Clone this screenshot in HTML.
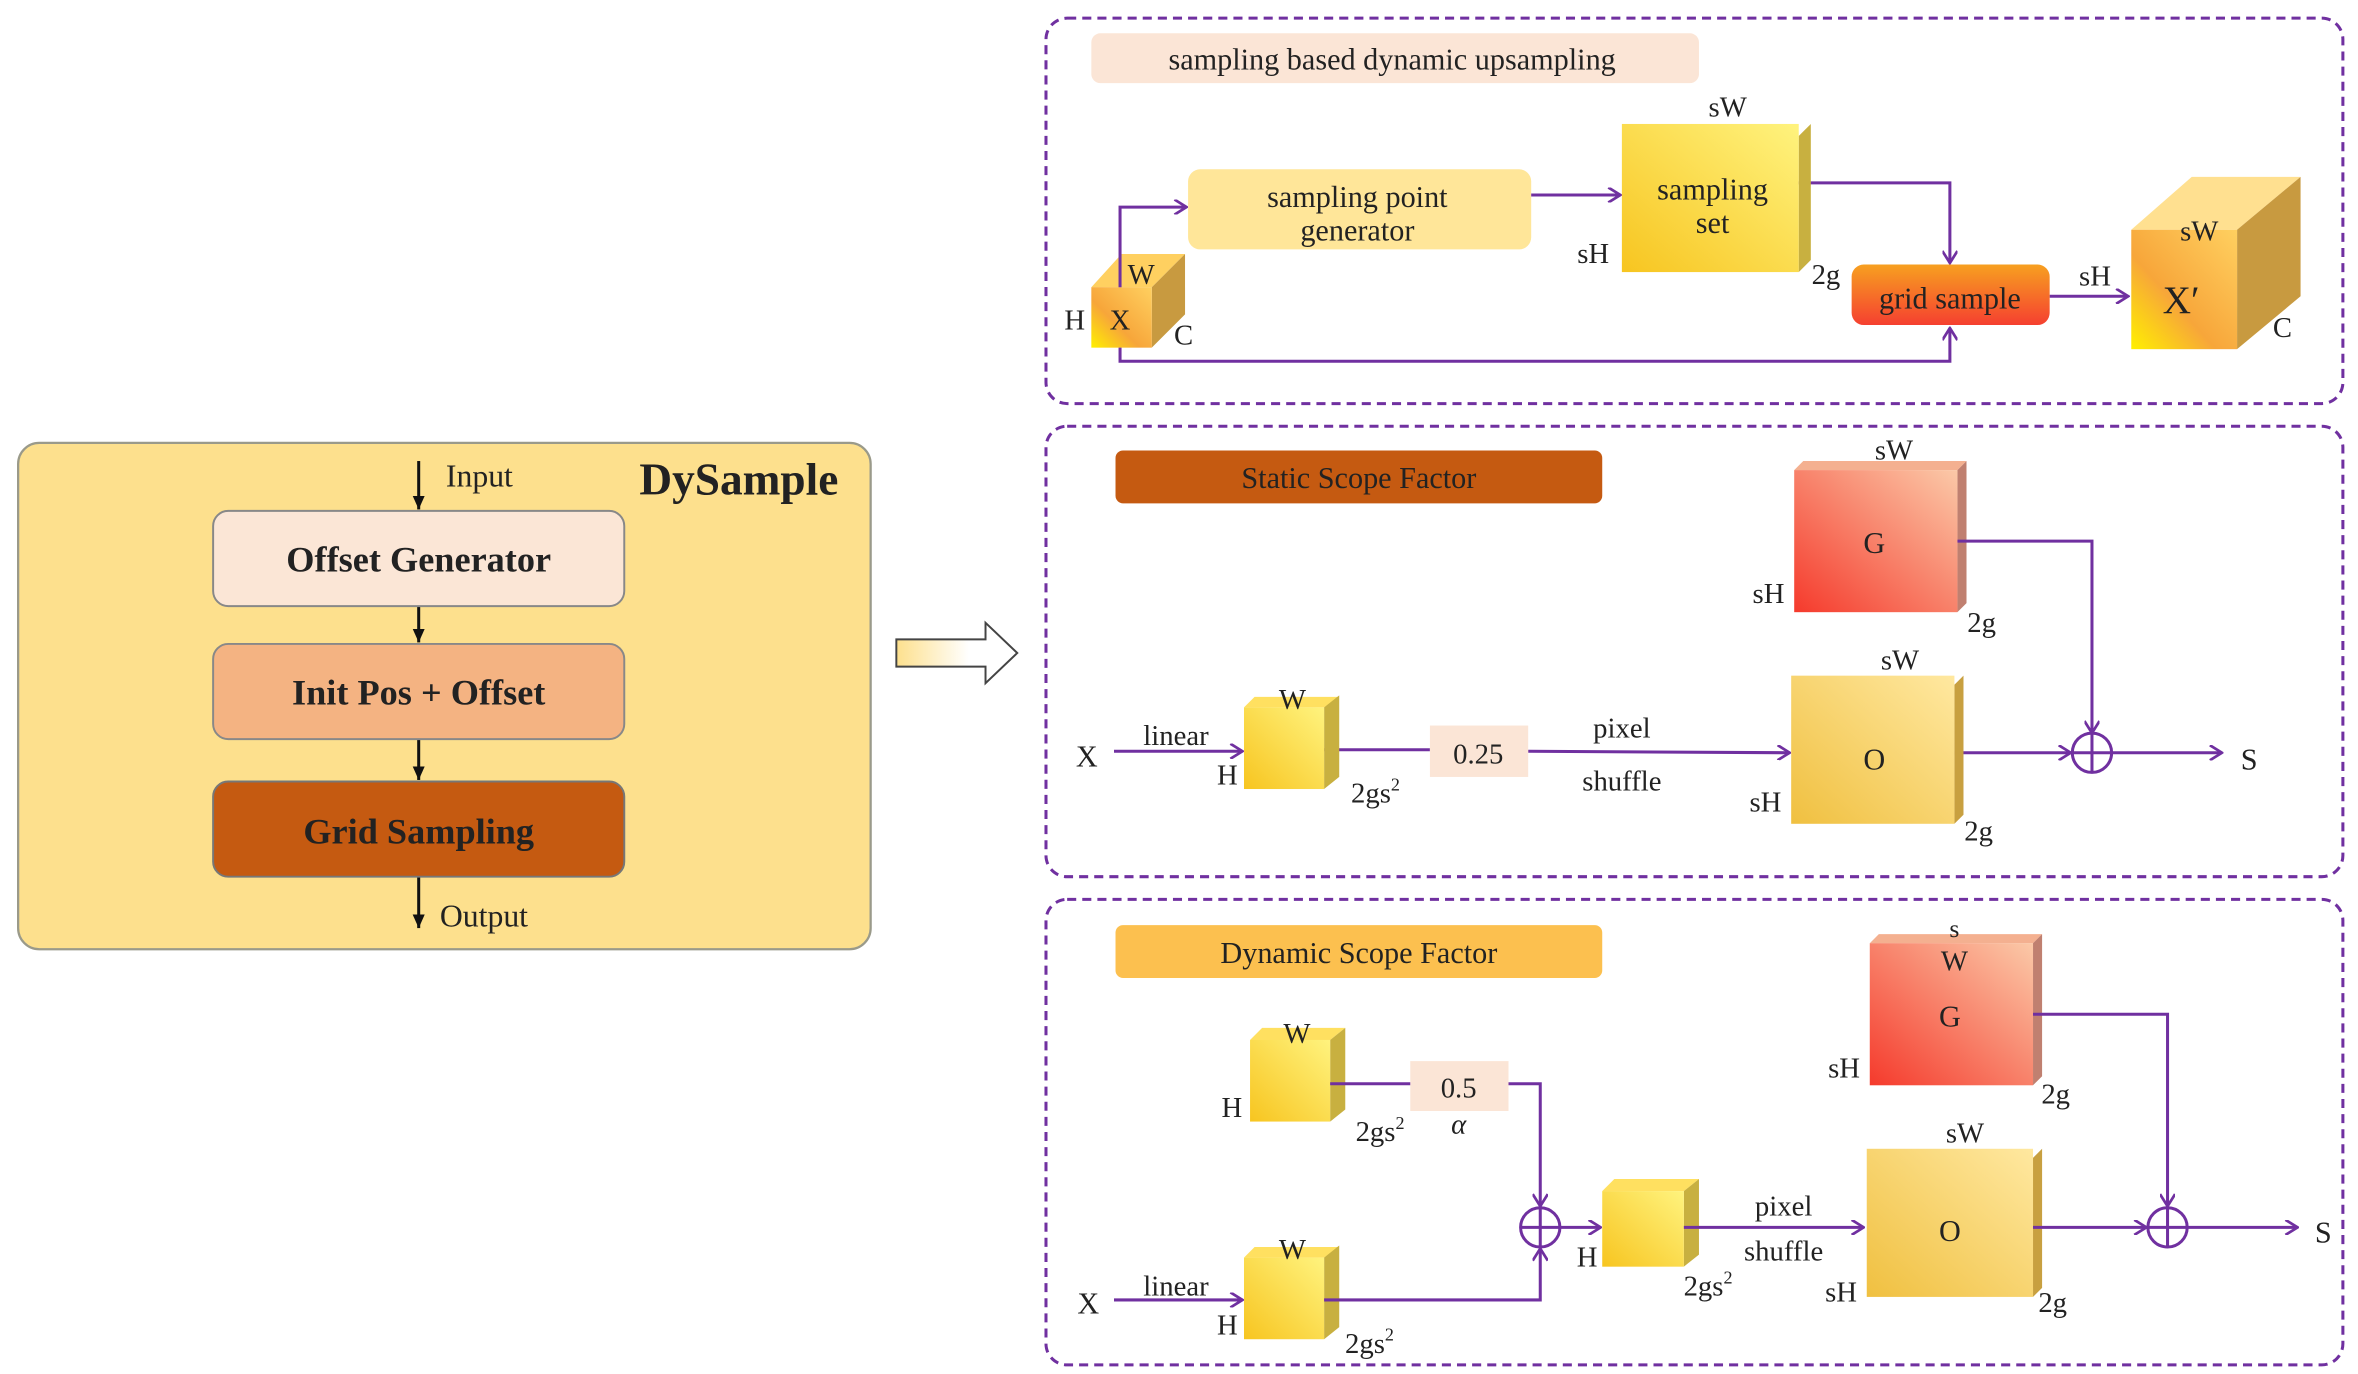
<!DOCTYPE html>
<html><head><meta charset="utf-8"><style>html,body{margin:0;padding:0;background:#fff}svg{display:block}text{font-family:"Liberation Serif",serif;fill:#222}</style></head>
<body>
<svg width="2358" height="1374" viewBox="0 0 1560 909" xmlns="http://www.w3.org/2000/svg">
<defs>
<linearGradient id="yel" x1="1" y1="0" x2="0" y2="1"><stop offset="0" stop-color="#fff37e"/><stop offset="1" stop-color="#f7c520"/></linearGradient>
<linearGradient id="org" x1="1" y1="0" x2="0" y2="1"><stop offset="0" stop-color="#ffd060"/><stop offset="0.6" stop-color="#f7a63a"/><stop offset="1" stop-color="#fff000"/></linearGradient>
<linearGradient id="red" x1="1" y1="0" x2="0" y2="1"><stop offset="0" stop-color="#fbc9a8"/><stop offset="1" stop-color="#f53a2c"/></linearGradient>
<linearGradient id="oo" x1="1" y1="0" x2="0" y2="1"><stop offset="0" stop-color="#ffe8a0"/><stop offset="1" stop-color="#f0c040"/></linearGradient>
<linearGradient id="gs" x1="0" y1="0" x2="0" y2="1"><stop offset="0" stop-color="#f7a020"/><stop offset="1" stop-color="#f54030"/></linearGradient>
<linearGradient id="arr" x1="0" y1="0" x2="1" y2="0"><stop offset="0" stop-color="#fde08d"/><stop offset="0.6" stop-color="#fff"/></linearGradient>
<marker id="ah" markerWidth="10" markerHeight="10" refX="9" refY="5" orient="auto" markerUnits="userSpaceOnUse"><path d="M1,0 L9,5 L1,10" fill="none" stroke="#7030a0" stroke-width="1.8"/></marker>
<marker id="bh" markerWidth="10" markerHeight="10" refX="9" refY="5" orient="auto" markerUnits="userSpaceOnUse"><path d="M0,1 L9,5 L0,9 Z" fill="#111"/></marker>
</defs>

<!-- Left panel -->
<rect x="12" y="293" width="564" height="335" rx="14" fill="#fde08d" stroke="#9a9a8a" stroke-width="1.5"/>
<g stroke="#111" stroke-width="2">
<line x1="277" y1="305" x2="277" y2="337" marker-end="url(#bh)"/>
<line x1="277" y1="401" x2="277" y2="425" marker-end="url(#bh)"/>
<line x1="277" y1="489" x2="277" y2="516" marker-end="url(#bh)"/>
<line x1="277" y1="580" x2="277" y2="614" marker-end="url(#bh)"/>
</g>
<text x="295" y="322" font-size="21">Input</text>
<text x="423" y="327" font-size="30" font-weight="bold" fill="#333">DySample</text>
<rect x="141" y="338" width="272" height="63" rx="10" fill="#fbe6d6" stroke="#888" stroke-width="1.3"/>
<text x="277" y="378" font-size="24" font-weight="bold" text-anchor="middle" fill="#444">Offset  Generator</text>
<rect x="141" y="426" width="272" height="63" rx="10" fill="#f4b382" stroke="#888" stroke-width="1.3"/>
<text x="277" y="466" font-size="24" font-weight="bold" text-anchor="middle" fill="#444">Init Pos + Offset</text>
<rect x="141" y="517" width="272" height="63" rx="10" fill="#c55a11" stroke="#777" stroke-width="1.3"/>
<text x="277" y="558" font-size="24" font-weight="bold" text-anchor="middle" fill="#4a3a2a">Grid Sampling</text>
<text x="291" y="613" font-size="21">Output</text>

<!-- big arrow -->
<path d="M593,423 L652,423 L652,412 L673,432 L652,452 L652,441 L593,441 Z" fill="url(#arr)" stroke="#444" stroke-width="1.3"/>

<!-- Panel 1 -->
<rect x="692" y="12" width="858" height="255" rx="14" fill="none" stroke="#7030a0" stroke-width="2" stroke-dasharray="6,4"/>
<rect x="722" y="22" width="402" height="33" rx="6" fill="#fbe5d6"/>
<text x="921" y="46" font-size="20" text-anchor="middle">sampling based dynamic upsampling</text>
<rect x="786" y="112" width="227" height="53" rx="8" fill="#ffe699"/>
<text x="898" y="137" font-size="20" text-anchor="middle">sampling point</text>
<text x="898" y="159" font-size="20" text-anchor="middle">generator</text>
<!-- X cube -->
<polygon points="722,190 742,168 784,168 762,190" fill="#ffd060"/>
<polygon points="762,190 784,168 784,208 762,230" fill="#c89a40"/>
<rect x="722" y="190" width="40" height="40" fill="url(#org)"/>
<g fill="none" stroke="#7030a0" stroke-width="2">
<polyline points="741,190 741,137 785,137" marker-end="url(#ah)"/>
<polyline points="741,230 741,239 1290,239 1290,217" marker-end="url(#ah)"/>
<line x1="1013" y1="129" x2="1072" y2="129" marker-end="url(#ah)"/>
<polyline points="1190,121 1290,121 1290,174" marker-end="url(#ah)"/>
<line x1="1356" y1="196" x2="1408" y2="196" marker-end="url(#ah)"/>
</g>
<text x="755" y="188" font-size="19" text-anchor="middle">W</text>
<text x="711" y="218" font-size="19" text-anchor="middle">H</text>
<text x="741" y="218" font-size="19" text-anchor="middle">X</text>
<text x="783" y="228" font-size="19" text-anchor="middle">C</text>
<!-- sampling set -->
<polygon points="1190,90 1198,82 1198,172 1190,180" fill="#c8b040"/>
<rect x="1073" y="82" width="117" height="98" fill="url(#yel)"/>
<text x="1133" y="132" font-size="20" text-anchor="middle">sampling</text>
<text x="1133" y="154" font-size="20" text-anchor="middle">set</text>
<text x="1143" y="77" font-size="19" text-anchor="middle">sW</text>
<text x="1054" y="174" font-size="19" text-anchor="middle">sH</text>
<text x="1208" y="188" font-size="19" text-anchor="middle">2g</text>
<rect x="1225" y="175" width="131" height="40" rx="8" fill="url(#gs)"/>
<text x="1290" y="204" font-size="20" text-anchor="middle">grid sample</text>
<text x="1386" y="189" font-size="19" text-anchor="middle">sH</text>
<!-- X' cube -->
<polygon points="1410,152 1450,117 1522,117 1480,152" fill="#ffe090"/>
<polygon points="1480,152 1522,117 1522,196 1480,231" fill="#c89a40"/>
<rect x="1410" y="152" width="70" height="79" fill="url(#org)"/>
<text x="1455" y="159" font-size="19" text-anchor="middle">sW</text>
<text x="1443" y="207" font-size="26" text-anchor="middle">X′</text>
<text x="1510" y="223" font-size="19" text-anchor="middle">C</text>

<!-- Panel 2 -->
<rect x="692" y="282" width="858" height="298" rx="14" fill="none" stroke="#7030a0" stroke-width="2" stroke-dasharray="6,4"/>
<rect x="738" y="298" width="322" height="35" rx="5" fill="#c55a11"/>
<text x="899" y="323" font-size="20" text-anchor="middle" fill="#2a1a10">Static Scope Factor</text>
<polygon points="1187,311 1193,305 1301,305 1295,311" fill="#f4b090"/>
<polygon points="1295,311 1301,305 1301,399 1295,405" fill="#c08070"/>
<rect x="1187" y="311" width="108" height="94" fill="url(#red)"/>
<text x="1253" y="304" font-size="19" text-anchor="middle">sW</text>
<text x="1240" y="366" font-size="20" text-anchor="middle">G</text>
<text x="1170" y="399" font-size="19" text-anchor="middle">sH</text>
<text x="1311" y="418" font-size="19" text-anchor="middle">2g</text>
<g fill="none" stroke="#7030a0" stroke-width="2">
<polyline points="1295,358 1384,358 1384,485" marker-end="url(#ah)"/>
<line x1="737" y1="497" x2="822" y2="497" marker-end="url(#ah)"/>
<line x1="876" y1="496" x2="946" y2="496"/>
<line x1="1011" y1="497" x2="1184" y2="498" marker-end="url(#ah)"/>
<line x1="1293" y1="498" x2="1370" y2="498" marker-end="url(#ah)"/>
<line x1="1397" y1="498" x2="1470" y2="498" marker-end="url(#ah)"/>
<circle cx="1384" cy="498" r="13"/>
<line x1="1371" y1="498" x2="1397" y2="498"/>
<line x1="1384" y1="485" x2="1384" y2="511"/>
</g>
<text x="719" y="507" font-size="20" text-anchor="middle">X</text>
<text x="778" y="493" font-size="19" text-anchor="middle">linear</text>
<polygon points="823,468 830,461 886,461 876,468" fill="#ffe060"/>
<polygon points="876,468 886,460 886,514 876,522" fill="#c8b040"/>
<rect x="823" y="468" width="53" height="54" fill="url(#yel)"/>
<text x="855" y="469" font-size="19" text-anchor="middle">W</text>
<text x="812" y="519" font-size="19" text-anchor="middle">H</text>
<text x="910" y="531" font-size="19" text-anchor="middle">2gs<tspan font-size="12" dy="-8">2</tspan></text>
<rect x="946" y="480" width="65" height="34" fill="#fbe5d6"/>
<text x="978" y="505" font-size="19" text-anchor="middle">0.25</text>
<text x="1073" y="488" font-size="19" text-anchor="middle">pixel</text>
<text x="1073" y="523" font-size="19" text-anchor="middle">shuffle</text>
<polygon points="1293,453 1299,447 1299,539 1293,545" fill="#c8a040"/>
<rect x="1185" y="447" width="108" height="98" fill="url(#oo)"/>
<text x="1257" y="443" font-size="19" text-anchor="middle">sW</text>
<text x="1240" y="509" font-size="20" text-anchor="middle">O</text>
<text x="1168" y="537" font-size="19" text-anchor="middle">sH</text>
<text x="1309" y="556" font-size="19" text-anchor="middle">2g</text>
<text x="1488" y="509" font-size="20" text-anchor="middle">S</text>

<!-- Panel 3 -->
<rect x="692" y="595" width="858" height="308" rx="14" fill="none" stroke="#7030a0" stroke-width="2" stroke-dasharray="6,4"/>
<rect x="738" y="612" width="322" height="35" rx="5" fill="#fcc04f"/>
<text x="899" y="637" font-size="20" text-anchor="middle">Dynamic Scope Factor</text>
<!-- top small cube -->
<polygon points="827,688 835,680 890,680 880,688" fill="#ffe060"/>
<polygon points="880,688 890,680 890,734 880,742" fill="#c8b040"/>
<rect x="827" y="688" width="53" height="54" fill="url(#yel)"/>
<text x="858" y="690" font-size="19" text-anchor="middle">W</text>
<text x="815" y="739" font-size="19" text-anchor="middle">H</text>
<text x="913" y="755" font-size="19" text-anchor="middle">2gs<tspan font-size="12" dy="-8">2</tspan></text>
<rect x="933" y="702" width="65" height="33" fill="#fbe5d6"/>
<text x="965" y="726" font-size="19" text-anchor="middle">0.5</text>
<text x="965" y="750" font-size="19" font-style="italic" text-anchor="middle">α</text>
<!-- bottom small cube -->
<polygon points="823,832 830,825 886,825 876,832" fill="#ffe060"/>
<polygon points="876,832 886,824 886,878 876,886" fill="#c8b040"/>
<rect x="823" y="832" width="53" height="54" fill="url(#yel)"/>
<text x="855" y="833" font-size="19" text-anchor="middle">W</text>
<text x="812" y="883" font-size="19" text-anchor="middle">H</text>
<text x="906" y="895" font-size="19" text-anchor="middle">2gs<tspan font-size="12" dy="-8">2</tspan></text>
<text x="720" y="869" font-size="20" text-anchor="middle">X</text>
<text x="778" y="857" font-size="19" text-anchor="middle">linear</text>
<!-- middle cube -->
<polygon points="1060,788 1068,780 1124,780 1114,788" fill="#ffe060"/>
<polygon points="1114,788 1124,780 1124,830 1114,838" fill="#c8b040"/>
<rect x="1060" y="788" width="54" height="50" fill="url(#yel)"/>
<text x="1050" y="838" font-size="19" text-anchor="middle">H</text>
<text x="1130" y="857" font-size="19" text-anchor="middle">2gs<tspan font-size="12" dy="-8">2</tspan></text>
<text x="1180" y="804" font-size="19" text-anchor="middle">pixel</text>
<text x="1180" y="834" font-size="19" text-anchor="middle">shuffle</text>
<!-- O -->
<polygon points="1345,766 1351,760 1351,852 1345,858" fill="#c8a040"/>
<rect x="1235" y="760" width="110" height="98" fill="url(#oo)"/>
<text x="1300" y="756" font-size="19" text-anchor="middle">sW</text>
<text x="1290" y="821" font-size="20" text-anchor="middle">O</text>
<text x="1218" y="861" font-size="19" text-anchor="middle">sH</text>
<text x="1358" y="868" font-size="19" text-anchor="middle">2g</text>
<!-- G -->
<polygon points="1237,624 1243,618 1351,618 1345,624" fill="#f4b090"/>
<polygon points="1345,624 1351,618 1351,712 1345,718" fill="#c08070"/>
<rect x="1237" y="624" width="108" height="94" fill="url(#red)"/>
<text x="1293" y="620" font-size="17" text-anchor="middle">s</text>
<text x="1293" y="642" font-size="19" text-anchor="middle">W</text>
<text x="1290" y="679" font-size="20" text-anchor="middle">G</text>
<text x="1220" y="713" font-size="19" text-anchor="middle">sH</text>
<text x="1360" y="730" font-size="19" text-anchor="middle">2g</text>
<g fill="none" stroke="#7030a0" stroke-width="2">
<line x1="880" y1="717" x2="933" y2="717"/>
<polyline points="998,717 1019,717 1019,798" marker-end="url(#ah)"/>
<line x1="737" y1="860" x2="822" y2="860" marker-end="url(#ah)"/>
<polyline points="876,860 1019,860 1019,826" marker-end="url(#ah)"/>
<circle cx="1019" cy="812" r="13"/>
<line x1="1006" y1="812" x2="1032" y2="812"/>
<line x1="1019" y1="799" x2="1019" y2="825"/>
<line x1="1032" y1="812" x2="1059" y2="812" marker-end="url(#ah)"/>
<line x1="1114" y1="812" x2="1233" y2="812" marker-end="url(#ah)"/>
<polyline points="1345,671 1434,671 1434,798" marker-end="url(#ah)"/>
<line x1="1345" y1="812" x2="1420" y2="812" marker-end="url(#ah)"/>
<circle cx="1434" cy="812" r="13"/>
<line x1="1421" y1="812" x2="1447" y2="812"/>
<line x1="1434" y1="799" x2="1434" y2="825"/>
<line x1="1447" y1="812" x2="1520" y2="812" marker-end="url(#ah)"/>
</g>
<text x="1537" y="822" font-size="20" text-anchor="middle">S</text>
</svg>
</body></html>
